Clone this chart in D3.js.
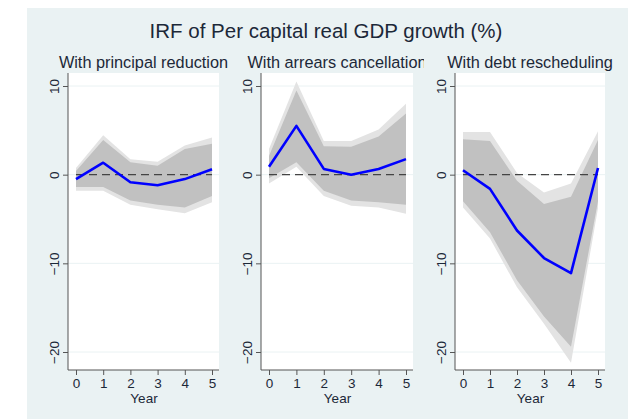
<!DOCTYPE html>
<html>
<head>
<meta charset="utf-8">
<script src="https://cdn.jsdelivr.net/npm/d3@7"></script>
<style>
  body { margin: 0; background: #fff; }
  svg { display: block; font-family: "Liberation Sans", Arial, sans-serif; }
</style>
</head>
<body>
<script>
'use strict';

// years after the shock
const years = [0, 1, 2, 3, 4, 5];
const yTicks = [10, 0, -10, -20];

const titles = ["With principal reduction", "With arrears cancellation", "With debt rescheduling"];

// point estimates
const irfPrincipal = [-0.5, 1.35, -0.85, -1.2, -0.5, 0.6];
const irfArrears = [0.9, 5.5, 0.65, 0.0, 0.65, 1.75];
const irfResched = [0.5, -1.6, -6.3, -9.4, -11.1, 0.75];

// inner band (darker)
const hiInPrincipal = [0.4, 3.9, 1.4, 1.0, 2.9, 3.5];
const loInPrincipal = [-1.4, -1.4, -2.9, -3.4, -3.7, -2.4];
const hiInArrears = [2.1, 9.5, 3.2, 3.15, 4.3, 6.9];
const loInArrears = [-0.4, 1.4, -1.8, -2.9, -3.1, -3.4];
const hiInResched = [4.0, 3.8, -0.7, -3.3, -2.5, 3.9];
const loInResched = [-3.0, -6.5, -11.9, -16.0, -19.4, -3.0];

// outer band (lighter)
const hiOutPrincipal = [0.75, 4.45, 1.75, 1.45, 3.3, 4.2];
const loOutPrincipal = [-1.8, -1.8, -3.4, -3.9, -4.35, -3.1];
const hiOutArrears = [2.9, 10.5, 3.8, 3.8, 5.1, 8.0];
const loOutArrears = [-1.0, 0.9, -2.4, -3.5, -3.7, -4.4];
const hiOutResched = [4.8, 4.8, 0.2, -2.0, -1.0, 4.9];
const loOutResched = [-3.7, -7.2, -12.7, -16.8, -21.2, -3.8];

const panels = [
    { title: titles[0], irf: irfPrincipal, hiIn: hiInPrincipal, loIn: loInPrincipal, hiOut: hiOutPrincipal, loOut: loOutPrincipal },
    { title: titles[1], irf: irfArrears, hiIn: hiInArrears, loIn: loInArrears, hiOut: hiOutArrears, loOut: loOutArrears },
    { title: titles[2], irf: irfResched, hiIn: hiInResched, loIn: loInResched, hiOut: hiOutResched, loOut: loOutResched }
];

(function() {
    const W = 628, H = 419;
    const bg = "#eaf2f3";
    const txt = "#1c2838";

    const svg = d3.select("body").append("svg")
        .attr("width", W)
        .attr("height", H);

    svg.append("rect")
        .attr("x", 27).attr("y", 8)
        .attr("width", W - 27).attr("height", H - 8)
        .attr("fill", bg);

    svg.append("text")
        .attr("x", 326).attr("y", 38)
        .attr("text-anchor", "middle")
        .attr("font-size", 20.5)
        .attr("fill", txt)
        .text("IRF of Per capital real GDP growth (%)");

    // plot areas: left axis x, right edge, title clip
    const areas = [
        { left: 68, right: 219, clipL: 27, clipR: 231 },
        { left: 261, right: 413, clipL: 231, clipR: 424 },
        { left: 455, right: 605, clipL: 426, clipR: 628 }
    ];
    const plotTop = 73, plotBottom = 370;

    const y = d3.scaleLinear().domain([10, -20]).range([86, 352]);

    panels.forEach(function(p, i) {
        const a = areas[i];
        const x = d3.scaleLinear().domain([0, 5]).range([a.left + 8, a.right - 7]);
        const g = svg.append("g");

        svg.append("clipPath").attr("id", "clip" + i)
            .append("rect")
            .attr("x", a.clipL).attr("y", 40)
            .attr("width", a.clipR - a.clipL).attr("height", 40);

        g.append("text")
            .attr("clip-path", "url(#clip" + i + ")")
            .attr("x", (a.left + a.right) / 2).attr("y", 68)
            .attr("text-anchor", "middle")
            .attr("font-size", 16.3)
            .attr("fill", txt)
            .text(p.title);

        g.append("rect")
            .attr("x", a.left).attr("y", plotTop)
            .attr("width", a.right - a.left).attr("height", plotBottom - plotTop)
            .attr("fill", "#fff");

        // gridlines
        g.selectAll(".grid")
            .data(yTicks)
            .enter().append("line")
            .attr("x1", a.left).attr("x2", a.right)
            .attr("y1", d => y(d)).attr("y2", d => y(d))
            .attr("stroke", bg).attr("stroke-width", 1);

        const band = (lo, hi) => d3.area()
            .x((d, j) => x(years[j]))
            .y0((d, j) => y(lo[j]))
            .y1((d, j) => y(hi[j]));

        g.append("path")
            .attr("d", band(p.loOut, p.hiOut)(years))
            .attr("fill", "#e3e3e3");
        g.append("path")
            .attr("d", band(p.loIn, p.hiIn)(years))
            .attr("fill", "#c1c1c1");

        g.append("line")
            .attr("x1", x(0)).attr("x2", x(5))
            .attr("y1", y(0)).attr("y2", y(0))
            .attr("stroke", "#444").attr("stroke-width", 1.3)
            .attr("stroke-dasharray", "8,5");

        g.append("path")
            .attr("d", d3.line().x((d, j) => x(years[j])).y(d => y(d))(p.irf))
            .attr("fill", "none")
            .attr("stroke", "#0000ff")
            .attr("stroke-width", 2.6)
            .attr("stroke-linejoin", "round");

        // y axis
        const yAxis = g.append("g")
            .attr("transform", "translate(" + a.left + ",0)")
            .call(d3.axisLeft(y).tickValues(yTicks).tickSize(5).tickSizeOuter(0).tickFormat(d3.format("d")));
        yAxis.select(".domain").attr("d", "M0," + plotTop + "V" + plotBottom).attr("stroke", "#555");
        yAxis.selectAll(".tick line").attr("stroke", "#555");
        yAxis.selectAll(".tick text")
            .attr("font-size", 13.5)
            .attr("fill", txt)
            .attr("x", 0).attr("dy", 0)
            .attr("text-anchor", "middle")
            .attr("transform", "translate(-9,0) rotate(-90)");

        // x axis
        const xAxis = g.append("g")
            .attr("transform", "translate(0," + plotBottom + ")")
            .call(d3.axisBottom(x).tickValues(years).tickSize(5).tickSizeOuter(0).tickFormat(d3.format("d")));
        xAxis.select(".domain").attr("d", "M" + a.left + ",0H" + a.right).attr("stroke", "#555");
        xAxis.selectAll(".tick line").attr("stroke", "#555");
        xAxis.selectAll(".tick text")
            .attr("font-size", 13.5)
            .attr("fill", txt)
            .attr("y", 8);

        g.append("text")
            .attr("x", (x(0) + x(5)) / 2).attr("y", 403)
            .attr("text-anchor", "middle")
            .attr("font-size", 13.5)
            .attr("fill", txt)
            .text("Year");
    });
})();
</script>
</body>
</html>
